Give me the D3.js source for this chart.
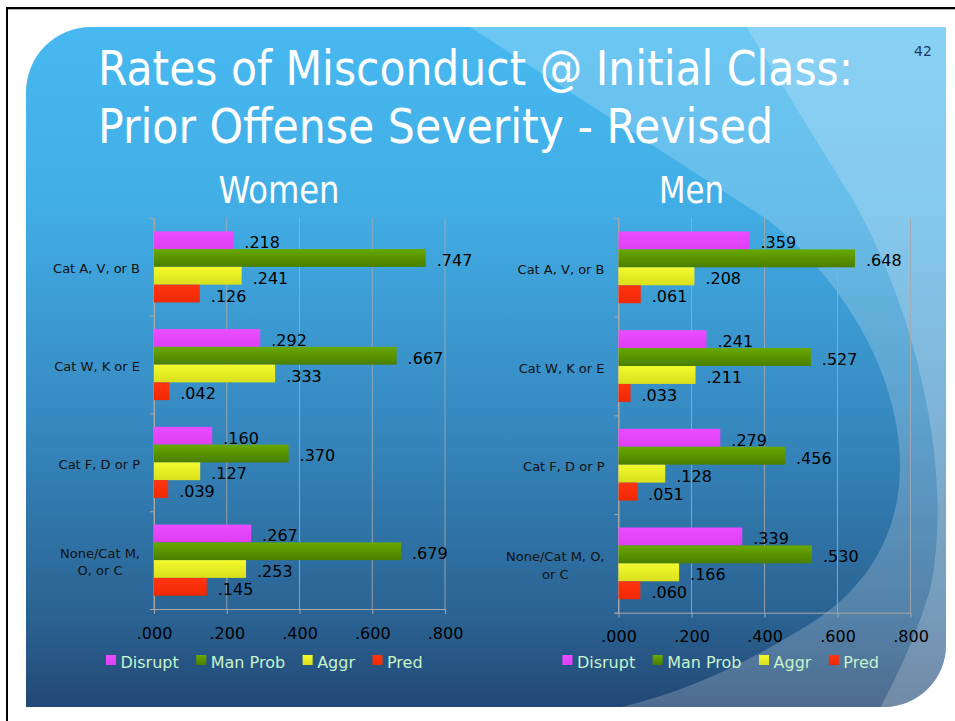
<!DOCTYPE html>
<html>
<head>
<meta charset="utf-8">
<script src="https://cdn.jsdelivr.net/npm/d3@7"></script>
<style>
html, body { margin: 0; padding: 0; background: #fff; }
svg { display: block; }
text { font-family: "DejaVu Sans", Verdana, sans-serif; }
</style>
</head>
<body>
<svg id="slide" width="955" height="721"></svg>
<script>
"use strict";

// ---- data ----
var categories = ["Cat A, V, or B", "Cat W, K or E", "Cat F, D or P", "None/Cat M, O, or C"];
var seriesNames = ["Disrupt", "Man Prob", "Aggr", "Pred"];

var womenDisrupt = [0.218, 0.292, 0.160, 0.267];
var womenManProb = [0.747, 0.667, 0.370, 0.679];
var womenAggr = [0.241, 0.333, 0.127, 0.253];
var womenPred = [0.126, 0.042, 0.039, 0.145];

var menDisrupt = [0.359, 0.241, 0.279, 0.339];
var menManProb = [0.648, 0.527, 0.456, 0.530];
var menAggr = [0.208, 0.211, 0.128, 0.166];
var menPred = [0.061, 0.033, 0.051, 0.060];

var xTicks = [0, 0.2, 0.4, 0.6, 0.8];

var titleLines = ["Rates of Misconduct @ Initial Class:", "Prior Offense Severity - Revised"];
var pageNumber = "42";

// bar colours (top, bottom of a vertical gradient)
var seriesColors = [
    ["#ea4cff", "#df3ff2"],
    ["#68a900", "#4a7e00"],
    ["#f3fb2e", "#d9df1c"],
    ["#ff3512", "#f02800"]
];

var svg = d3.select("#slide");
var defs = svg.append("defs");

function fmt(v) {
    return d3.format(".3f")(v).replace(/^0/, "");
}

// ---- background slide ----
var slidePath = "M26,707 L26,92 A65,65 0 0 1 91,27 L946,27 L946,645 A62,62 0 0 1 884,707 Z";

var bg = defs.append("linearGradient").attr("id", "bg")
    .attr("gradientUnits", "userSpaceOnUse")
    .attr("x1", 0).attr("y1", 27).attr("x2", 0).attr("y2", 707);
[[0, "#47b9f0"], [0.255, "#42aee6"], [0.58, "#3689c0"], [0.87, "#2a6292"], [1, "#234874"]]
    .forEach(function (s) {
        bg.append("stop").attr("offset", s[0]).attr("stop-color", s[1]);
    });

defs.append("clipPath").attr("id", "slideClip").append("path").attr("d", slidePath);

seriesColors.forEach(function (c, i) {
    var g = defs.append("linearGradient").attr("id", "bar-" + i)
        .attr("x1", 0).attr("y1", 0).attr("x2", 0).attr("y2", 1);
    g.append("stop").attr("offset", 0).attr("stop-color", c[0]);
    g.append("stop").attr("offset", 1).attr("stop-color", c[1]);
});

svg.append("rect").attr("width", 955).attr("height", 721).attr("fill", "#fff");
svg.append("path").attr("d", slidePath).attr("fill", "url(#bg)");

var swoosh = svg.append("g").attr("clip-path", "url(#slideClip)");
swoosh.append("path")
    .attr("d", "M459,20 L768,220 C895,320 965,520 816,620 C740,668 680,695 600,712 L960,712 L960,20 Z")
    .attr("fill", "#fff").attr("fill-opacity", 0.2);
swoosh.append("path")
    .attr("d", "M742,20 L853,200 C915,310 955,470 930,590 C915,640 895,680 878,712 L960,712 L960,20 Z")
    .attr("fill", "#fff").attr("fill-opacity", 0.2);

// page frame
svg.append("rect").attr("x", 6).attr("y", 7).attr("width", 949).attr("height", 2).attr("fill", "#000");
svg.append("line").attr("x1", 8).attr("x2", 955).attr("y1", 9.5).attr("y2", 9.5)
    .attr("stroke", "#b0b0b0").attr("stroke-width", 1);
svg.append("rect").attr("x", 6).attr("y", 7).attr("width", 2).attr("height", 714).attr("fill", "#000");

// ---- titles ----
var titleFont = "'Liberation Sans Narrow', 'DejaVu Sans Condensed', 'DejaVu Sans', sans-serif";
svg.append("text").attr("x", 98).attr("y", 85)
    .attr("font-size", 48).style("font-family", titleFont).attr("fill", "#fff")
    .attr("textLength", 755).attr("lengthAdjust", "spacingAndGlyphs")
    .text(titleLines[0]);
svg.append("text").attr("x", 98).attr("y", 143)
    .attr("font-size", 48).style("font-family", titleFont).attr("fill", "#fff")
    .attr("textLength", 675).attr("lengthAdjust", "spacingAndGlyphs")
    .text(titleLines[1]);
svg.append("text").attr("x", 914).attr("y", 56)
    .attr("font-size", 14).attr("fill", "#1f3a60")
    .text(pageNumber);

// ---- one chart panel ----
function wrapLines(label, maxWidth, probe) {
    var words = label.split(" ");
    var lines = [];
    var cur = "";
    for (var i = 0; i < words.length; i++) {
        var test = cur ? cur + " " + words[i] : words[i];
        probe.text(test);
        if (cur && probe.node().getComputedTextLength() > maxWidth) {
            lines.push(cur);
            cur = words[i];
        } else {
            cur = test;
        }
    }
    lines.push(cur);
    return lines;
}

function drawPanel(p) {
    var g = svg.append("g").attr("class", "panel");
    var data = [p.disrupt, p.manProb, p.aggr, p.pred];

    var x = d3.scaleLinear().domain([0, 0.8]).range(p.xRange);
    var y0 = d3.scaleBand().domain(categories).range(p.yRange);
    var y1 = d3.scaleBand().domain(seriesNames).range([0, y0.bandwidth()]).paddingOuter(0.75);
    var yEdge = d3.scaleLinear().domain([0, categories.length]).range(p.yRange);

    // panel heading
    g.append("text").attr("x", p.headX).attr("y", 203)
        .attr("font-size", 38).style("font-family", titleFont).attr("fill", "#fff")
        .attr("textLength", p.headW).attr("lengthAdjust", "spacingAndGlyphs")
        .text(p.heading);

    // vertical gridlines
    g.append("g").selectAll("line").data(xTicks).enter().append("line")
        .attr("x1", function (d) { return x(d); })
        .attr("x2", function (d) { return x(d); })
        .attr("y1", p.yRange[0]).attr("y2", p.yRange[1])
        .attr("stroke", "#a8a8a8").attr("stroke-opacity", 0.85);

    // left axis: ticks on category boundaries
    var gy = g.append("g").attr("transform", "translate(" + p.xRange[0] + ",0)")
        .call(d3.axisLeft(yEdge).ticks(categories.length).tickSize(4).tickSizeOuter(4).tickFormat(""));
    gy.selectAll("path, line").attr("stroke", "#a8a8a8");

    // bottom axis
    var gx = g.append("g").attr("transform", "translate(0," + p.yRange[1] + ")")
        .call(d3.axisBottom(x).tickValues(xTicks).tickSize(5).tickSizeOuter(0)
            .tickPadding(p.tickPad).tickFormat(fmt));
    gx.selectAll("path, line").attr("stroke", "#a8a8a8");
    gx.selectAll("text").attr("font-size", 16).attr("fill", "#000")
        .style("font-family", "'DejaVu Sans', Verdana, sans-serif");

    // category labels
    var probe = g.append("text").attr("font-size", 13);
    categories.forEach(function (c) {
        var lines = wrapLines(c, p.wrap, probe);
        var w = 0;
        lines.forEach(function (l) {
            probe.text(l);
            w = Math.max(w, probe.node().getComputedTextLength());
        });
        var cx = p.xRange[0] - 14 - w / 2;
        var cy = y0(c) + y0.bandwidth() / 2 + 6.5 - (lines.length - 1) * 17.3 / 2;
        g.append("g").selectAll("text").data(lines).enter().append("text")
            .attr("x", cx)
            .attr("y", function (d, i) { return cy + i * 17.3; })
            .attr("text-anchor", "middle").attr("font-size", 13).attr("fill", "#111")
            .text(function (d) { return d; });
    });
    probe.remove();

    // bars and value labels
    seriesNames.forEach(function (s, si) {
        var sg = g.append("g").attr("class", "series-" + si);
        sg.selectAll("rect").data(data[si]).enter().append("rect")
            .attr("x", x(0))
            .attr("y", function (d, i) { return y0(categories[i]) + y1(s); })
            .attr("width", function (d) { return x(d) - x(0); })
            .attr("height", y1.bandwidth())
            .attr("fill", "url(#bar-" + si + ")");
        sg.selectAll("text").data(data[si]).enter().append("text")
            .attr("x", function (d) { return x(d) + 11; })
            .attr("y", function (d, i) { return y0(categories[i]) + y1(s) + y1.bandwidth() / 2 + 8; })
            .attr("font-size", 16).attr("fill", "#000")
            .text(fmt);
    });

    // legend
    var lg = g.append("g").attr("transform", "translate(" + p.legendX + ",655)");
    var offset = 0;
    seriesNames.forEach(function (s, si) {
        var ig = lg.append("g").attr("transform", "translate(" + offset + ",0)");
        ig.append("rect").attr("width", 10).attr("height", 10).attr("fill", "url(#bar-" + si + ")");
        var t = ig.append("text").attr("x", 14.5).attr("y", 12.7)
            .attr("font-size", 16).attr("fill", "#c8f2cc").text(s);
        offset += 14.5 + t.node().getComputedTextLength() + 17.5;
    });
}

drawPanel({
    heading: "Women", headX: 218.5, headW: 121,
    disrupt: womenDisrupt, manProb: womenManProb, aggr: womenAggr, pred: womenPred,
    xRange: [154, 445], yRange: [218, 609], tickPad: 14,
    wrap: 90, legendX: 106
});

drawPanel({
    heading: "Men", headX: 659, headW: 65,
    disrupt: menDisrupt, manProb: menManProb, aggr: menAggr, pred: menPred,
    xRange: [618.5, 910.5], yRange: [218, 612.7], tickPad: 13,
    wrap: 105, legendX: 562.4
});
</script>
</body>
</html>
